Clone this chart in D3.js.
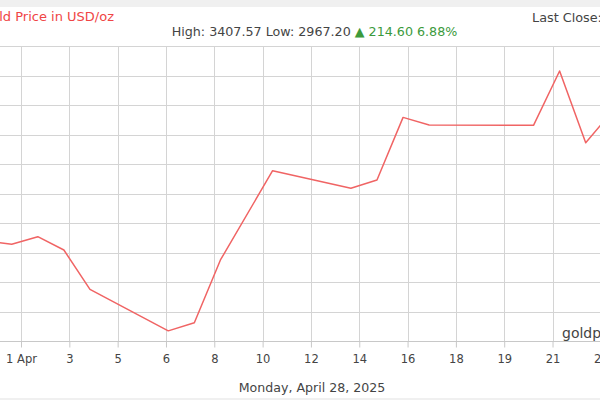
<!DOCTYPE html>
<html>
<head>
<meta charset="utf-8">
<script src="https://cdn.jsdelivr.net/npm/d3@7"></script>
<style>
  html, body { margin: 0; padding: 0; background: #fff; }
  svg { display: block; font-family: "DejaVu Sans", Verdana, sans-serif; }
</style>
</head>
<body>
<svg id="chart" width="600" height="400"></svg>
<script>
// ---- data (day of April 2025; 0 = 31 Mar) ----
const days   = [0, 1, 2, 3, 4, 7, 8, 9, 11, 14, 15, 16, 17, 21, 22, 23, 24];
const prices = [3120.0, 3113.9, 3126.8, 3104.2, 3037.6, 2967.2, 2981.0, 3087.3,
                3238.6, 3209.0, 3223.0, 3329.0, 3316.0, 3315.5, 3407.57, 3286.0, 3338.0];
const tickLabels = ["1 Apr", "3", "5", "6", "8", "10", "12", "14", "16", "18", "19", "21", "23"];
const tickStart = 1.357, tickStep = 1.852;  // axis ticks fall every ~1.85 days
const yTicks = [2950, 3000, 3050, 3100, 3150, 3200, 3250, 3300, 3350, 3400, 3450];
const titleText = "Gold Price in USD/oz";
const statsText = "High: 3407.57 Low: 2967.20 ";
const changeText = "\u25B2 214.60 6.88%";
const lastCloseText = "Last Close:";
const watermark = "goldprice.org";
const dateText = "Monday, April 28, 2025";

// ---- layout ----
const W = 600, H = 400;
const plotTop = 46, plotBottom = 341;
const svg = d3.select("#chart");

svg.append("rect").attr("x", 0).attr("y", 0).attr("width", W).attr("height", H).attr("fill", "#fff");
svg.append("rect").attr("x", 0).attr("y", 0).attr("width", W).attr("height", 7).attr("fill", "#f0f0f0");
svg.append("rect").attr("x", 0).attr("y", 398).attr("width", W).attr("height", 2).attr("fill", "#f0f0f0");

const x = d3.scaleLinear().domain([1, 23]).range([11.7, 585.7]);
const y = d3.scaleLinear().domain([2950, 3450]).range([plotBottom, plotTop]);

const tickVals = d3.range(tickLabels.length).map(k => tickStart + k * tickStep);

// horizontal grid
svg.append("g").selectAll("line").data(yTicks).join("line")
  .attr("x1", -50).attr("x2", W + 50)
  .attr("y1", d => Math.round(y(d)) + 0.5).attr("y2", d => Math.round(y(d)) + 0.5)
  .attr("stroke", "#d4d4d4").attr("stroke-width", 1);

// vertical grid
svg.append("g").selectAll("line").data(tickVals).join("line")
  .attr("x1", d => Math.round(x(d)) + 0.5).attr("x2", d => Math.round(x(d)) + 0.5)
  .attr("y1", plotTop).attr("y2", plotBottom)
  .attr("stroke", "#d4d4d4").attr("stroke-width", 1);

// x axis
const xAxis = d3.axisBottom(x).tickValues(tickVals)
  .tickFormat((d, i) => tickLabels[i]).tickSizeInner(6).tickSizeOuter(0).tickPadding(7);
const gx = svg.append("g").attr("transform", `translate(0,${plotBottom + 0.5})`).call(xAxis);
gx.select(".domain").attr("stroke", "#c8c8c8").attr("d", `M-50,0H${W + 50}`);
gx.selectAll(".tick line").attr("stroke", "#c8c8c8");
gx.selectAll(".tick text").attr("fill", "#444").attr("font-size", 11.5)
  .attr("font-family", "DejaVu Sans, Verdana, sans-serif");

// line
const line = d3.line().x(d => x(d[0])).y(d => y(d[1]));
svg.append("path")
  .datum(days.map((d, i) => [d, prices[i]]))
  .attr("d", line)
  .attr("fill", "none")
  .attr("stroke", "#f06464")
  .attr("stroke-width", 1.5)
  .attr("stroke-linejoin", "round");

// texts
svg.append("text").attr("x", 114).attr("y", 21).attr("text-anchor", "end")
  .attr("font-size", 13).attr("fill", "#f04545").text(titleText);

const stats = svg.append("text").attr("x", 314.5).attr("y", 36).attr("text-anchor", "middle")
  .attr("font-size", 12.7);
stats.append("tspan").attr("fill", "#444").text(statsText);
stats.append("tspan").attr("fill", "#3c9a3c").text(changeText);

svg.append("text").attr("x", 532).attr("y", 22).attr("font-size", 12.8)
  .attr("fill", "#444").text(lastCloseText);

svg.append("text").attr("x", 562).attr("y", 338).attr("font-size", 14)
  .attr("fill", "#444").text(watermark);

svg.append("text").attr("x", 312).attr("y", 392).attr("text-anchor", "middle")
  .attr("font-size", 12.6).attr("fill", "#444").text(dateText);
</script>
</body>
</html>
